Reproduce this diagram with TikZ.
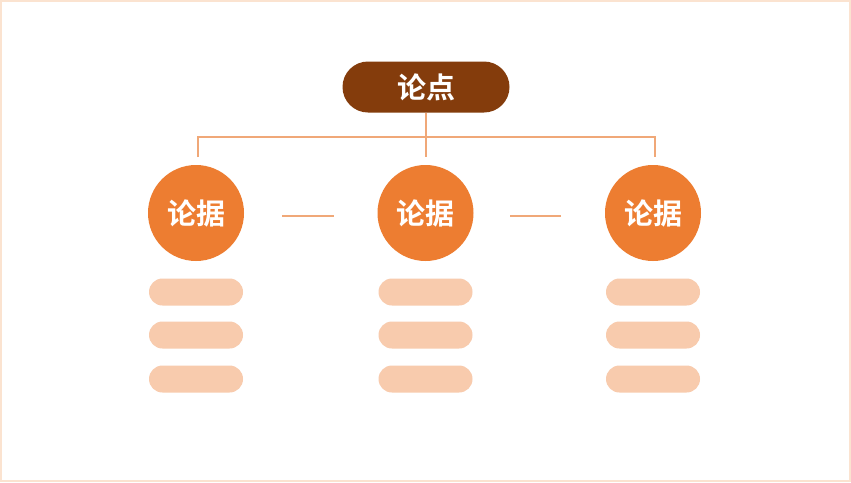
\documentclass[tikz,border=0pt]{standalone}
\usepackage{fontspec}
\newfontfamily\cjk{Noto Sans CJK SC}[BoldFont={Noto Sans CJK SC Bold}]
\definecolor{brown}{HTML}{843C0C}
\definecolor{orng}{HTML}{ED7D31}
\definecolor{peach}{HTML}{F8CBAD}
\definecolor{lineor}{HTML}{F0A878}
\definecolor{frame}{HTML}{FBE3D0}
\tikzset{
  x=1pt, y=-1pt,
  toppill/.style={draw=none, fill=brown, rounded corners=25.5pt, minimum width=167pt, minimum height=51pt, inner sep=0pt, text=white, font=\cjk\bfseries\fontsize{29}{32}\selectfont},
  argcircle/.style={circle, fill=orng, minimum size=96pt, inner sep=0pt, text=white, font=\cjk\bfseries\fontsize{29}{32}\selectfont},
  bar/.style={fill=peach, rounded corners=13.5pt, minimum width=94pt, minimum height=27pt, inner sep=0pt},
  conn/.style={draw=lineor, line width=1.1pt},
}
\begin{document}
\begin{tikzpicture}
\fill[white] (0,0) rectangle (851,482);
\draw[frame, line width=2pt] (1,1) rectangle (850,481);
\useasboundingbox (0,0) rectangle (851,482);

\node[toppill] (top) at (426,87) {论点};
\coordinate (hl) at (198,137);
\coordinate (hm) at (426,137);
\coordinate (hr) at (655,137);
\coordinate (dl) at (198,157);
\coordinate (dm) at (426,157);
\coordinate (dr) at (655,157);

\draw[conn] (top.south) -- (hm);
\draw[conn] (dl) -- (hl) -- (hr) -- (dr);
\draw[conn] (hm) -- (dm);

\foreach \n/\x in {a/196,b/425.5,c/653}{
  \node[argcircle] (c\n) at (\x,213) {论据};
  \node[bar] (\n1) at (\x,292) {};
  \node[bar] (\n2) at (\x,335) {};
  \node[bar] (\n3) at (\x,379) {};
}
\coordinate (s1) at (282,216);
\coordinate (e1) at (334,216);
\coordinate (s2) at (510,216);
\coordinate (e2) at (561,216);
\draw[conn] (s1) -- (e1);
\draw[conn] (s2) -- (e2);
\end{tikzpicture}
\end{document}
